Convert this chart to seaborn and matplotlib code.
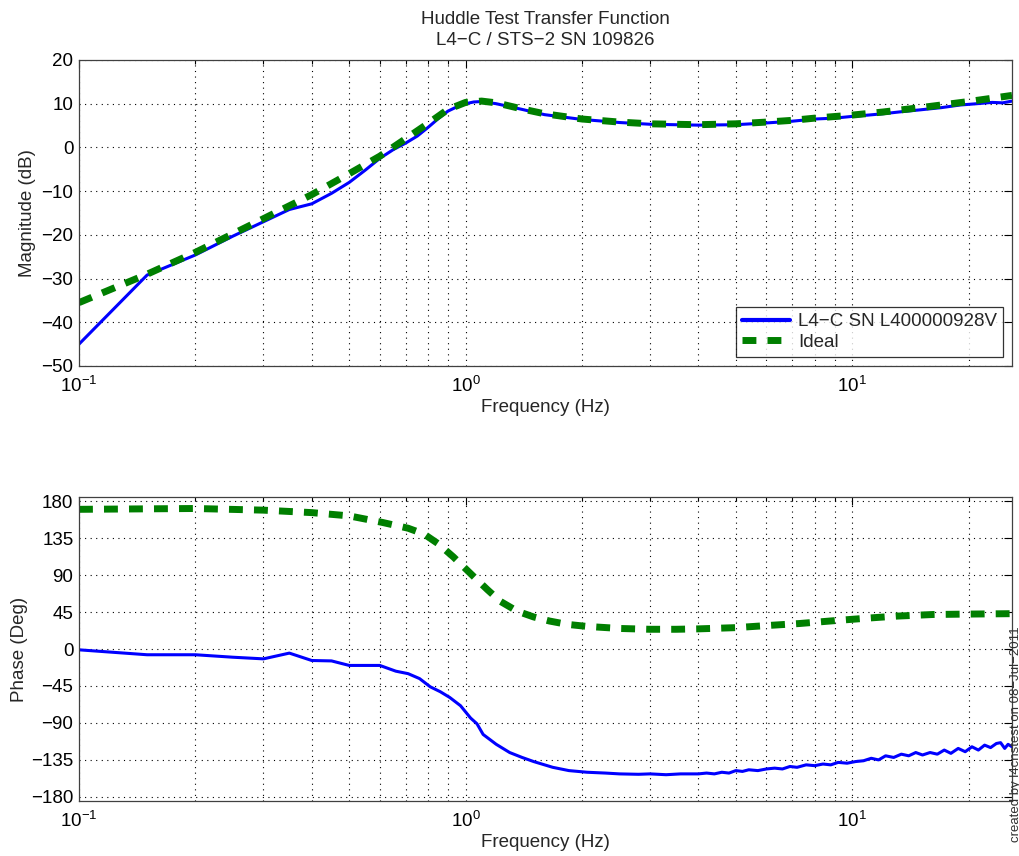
import matplotlib
matplotlib.use("Agg")
import matplotlib.pyplot as plt
from matplotlib.ticker import LogLocator, FixedLocator, NullFormatter
import seaborn as sns
import pandas as pd

# ---------------- data ----------------
mag_freq_meas = [0.1, 0.15, 0.2, 0.25, 0.3, 0.35, 0.4, 0.45, 0.5, 0.55, 0.6, 0.65, 0.7,
                 0.75, 0.8, 0.85, 0.9, 0.95, 1.0, 1.05, 1.1, 1.2, 1.4, 1.6, 2.0, 2.5, 3.0,
                 4.0, 5.0, 6.0, 7.0, 8.0, 9.0, 10.0, 11.0, 12.0, 13.5, 15.0, 17.0, 19.0,
                 21.0, 23.0, 24.5, 25.9]
mag_meas = [-45.0, -29.2, -24.6, -20.3, -17.0, -14.2, -12.9, -10.5, -8.0, -5.2, -2.5, -0.5,
            1.0, 2.6, 4.6, 6.6, 8.3, 9.3, 10.0, 10.4, 10.5, 10.0, 8.7, 7.5, 6.4, 5.7, 5.3,
            5.1, 5.2, 5.6, 6.0, 6.5, 6.7, 7.1, 7.4, 7.7, 8.2, 8.6, 9.1, 9.7, 10.0, 10.3,
            10.2, 10.6]

mag_freq_ideal = [0.1, 0.15, 0.2, 0.3, 0.4, 0.5, 0.6, 0.7, 0.8, 0.9, 1.0, 1.1, 1.2, 1.4,
                  1.6, 2.0, 2.5, 3.0, 4.0, 5.0, 6.0, 7.0, 8.0, 10.0, 12.0, 15.0, 20.0, 25.9]
mag_ideal = [-35.5, -29.0, -24.0, -16.3, -10.8, -6.0, -2.0, 2.0, 5.5, 8.7, 10.3, 10.6,
             10.2, 8.8, 7.7, 6.5, 5.8, 5.4, 5.2, 5.4, 5.8, 6.2, 6.7, 7.4, 8.1, 9.1, 10.5, 11.9]

ph_freq_meas = [0.1, 0.15, 0.2, 0.25, 0.3, 0.35, 0.4, 0.45, 0.5, 0.6, 0.66, 0.71, 0.76, 0.81,
                0.86, 0.91, 0.97, 1.03, 1.07, 1.11, 1.2, 1.3, 1.4, 1.5, 1.68, 1.85, 2.06, 2.3,
                2.5, 2.8, 3.0, 3.3, 3.6,
                4.0, 4.2, 4.4, 4.6, 4.8, 5.0, 5.2, 5.4, 5.7, 6.0, 6.3, 6.6, 6.9, 7.2, 7.6,
                8.0, 8.4, 8.8, 9.2, 9.7, 10.2, 10.7, 11.2, 11.7, 12.2, 12.8, 13.4, 14.0,
                14.6, 15.2, 15.9, 16.6, 17.3, 18.0, 18.8, 19.6, 20.4, 21.2, 22.0, 22.8,
                23.6, 24.2, 24.8, 25.3, 25.9]
ph_meas = [-1, -7, -7, -10, -12, -5, -14, -14.5, -20, -20, -27, -30, -36, -46,
           -52, -59, -69, -84, -91, -104, -116, -126, -132, -137, -144, -148, -150, -151,
           -152, -152.5, -152, -153, -152,
           -152, -151, -152, -150, -151, -148, -149, -147, -148, -146, -145, -146, -143,
           -144, -141, -142, -140, -141, -138, -139, -137, -136, -133, -135, -130, -132,
           -128, -130, -126, -129, -126, -128, -123, -127, -121, -125, -119, -123, -117,
           -120, -115, -114, -121, -116, -119]

ph_freq_ideal = [0.1, 0.2, 0.3, 0.4, 0.5, 0.61, 0.71, 0.78, 0.85, 0.93, 1.05, 1.14, 1.23,
                 1.36, 1.5, 1.65, 1.83, 2.06, 2.5, 3.0, 3.5, 4.0, 5.0, 6.0, 7.3, 9.0, 10.9,
                 13.0, 16.2, 20.0, 25.9]
ph_ideal = [170, 171, 169, 166, 162, 154, 147, 140, 128, 112, 88, 72, 58, 46, 39, 34, 30,
            27.5, 25, 24, 24, 24.5, 26, 28.5, 31, 34.5, 37.5, 40, 42, 42.5, 43]

label_meas = "L4\u2212C SN L400000928V"
label_ideal = "Ideal"
title_text = "Huddle Test Transfer Function\nL4\u2212C / STS\u22122 SN 109826"
mag_ticks = [-50, -40, -30, -20, -10, 0, 10, 20]
ph_ticks = [-180, -135, -90, -45, 0, 45, 90, 135, 180]
stamp_text = "created by l4cnstest on 08\u2212Jul\u22122011"

# ---------------- style ----------------
sns.set_style("white")
plt.rcParams['font.family'] = ['Liberation Sans', 'DejaVu Sans']
plt.rcParams['font.size'] = 13.5
plt.rcParams['mathtext.fontset'] = 'custom'
plt.rcParams['mathtext.rm'] = 'Liberation Sans'
plt.rcParams['mathtext.it'] = 'Liberation Sans'

FS = 13.5
BLUE = "#0000ff"
GREEN = "#007f00"

fig = plt.figure(figsize=(10.2, 8.56), dpi=100)
ax1 = fig.add_axes([79/1020, 1-366/856, 933/1020, 306/856])
ax2 = fig.add_axes([79/1020, 1-801/856, 933/1020, 304/856])

df_mag_m = pd.DataFrame({"f": mag_freq_meas, "v": mag_meas})
df_mag_i = pd.DataFrame({"f": mag_freq_ideal, "v": mag_ideal})
df_ph_m = pd.DataFrame({"f": ph_freq_meas, "v": ph_meas})
df_ph_i = pd.DataFrame({"f": ph_freq_ideal, "v": ph_ideal})

for ax, dm, di in [(ax1, df_mag_m, df_mag_i), (ax2, df_ph_m, df_ph_i)]:
    sns.lineplot(data=dm, x="f", y="v", ax=ax, color=BLUE, lw=2.2, estimator=None,
                 sort=False, label=label_meas, legend=False)
    sns.lineplot(data=di, x="f", y="v", ax=ax, color=GREEN, lw=5, estimator=None,
                 sort=False, label=label_ideal, legend=False, dashes=False)
    ax.lines[-1].set_dashes((2.0, 1.6))
    ax.set_xscale("log")
    ax.set_xlim(0.1, 25.9)
    ax.xaxis.set_major_locator(FixedLocator([0.1, 1, 10]))
    ax.set_xticklabels([r"$10^{-1}$", r"$10^{0}$", r"$10^{1}$"])
    ax.xaxis.set_minor_locator(LogLocator(base=10, subs=range(2, 10), numticks=20))
    ax.xaxis.set_minor_formatter(NullFormatter())
    ax.grid(True, which="major", axis="both", color="black", linestyle=(0, (1, 4)), lw=0.8)
    ax.grid(True, which="minor", axis="x", color="black", linestyle=(0, (1, 4)), lw=0.8)
    ax.tick_params(which="both", direction="in", top=True, right=True, labelsize=FS,
                   colors="black")
    ax.tick_params(which="major", length=6, width=0.8)
    ax.tick_params(which="minor", length=3, width=0.8)
    ax.tick_params(axis="x", which="major", pad=7)
    ax.tick_params(axis="y", which="major", pad=4)
    for s in ax.spines.values():
        s.set_color("#404040")
        s.set_linewidth(0.9)
    ax.set_xlabel("Frequency (Hz)", fontsize=FS, labelpad=2)

ax1.set_ylim(-50, 20)
ax1.set_yticks(mag_ticks)
ax1.set_ylabel("Magnitude (dB)", fontsize=FS, labelpad=4)
ax1.set_title(title_text, fontsize=FS, pad=11, linespacing=1.3)
leg = ax1.legend(loc="lower right", frameon=True, fancybox=False, fontsize=FS,
                 borderaxespad=0.5, handlelength=2.6, borderpad=0.3, labelspacing=0.2,
                 handletextpad=0.4)
leg.get_frame().set_edgecolor("black")
leg.get_frame().set_linewidth(0.9)
leg.legend_handles[0].set_linewidth(3)

ax2.set_ylim(-185, 185)
ax2.set_yticks(ph_ticks)
ax2.set_ylabel("Phase (Deg)", fontsize=FS, labelpad=2)

fig.text(1016/1020, 1-734/856, stamp_text, rotation=90, fontsize=9.5, ha="center",
         va="center", color="#303030")

fig.savefig("out.png", dpi=100)
